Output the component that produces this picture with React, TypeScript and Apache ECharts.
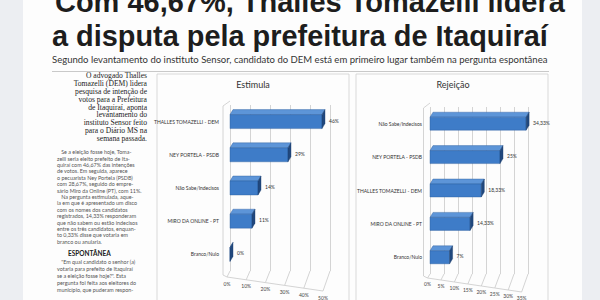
import React, { useEffect, useRef } from "react";
import * as echarts from "echarts";

const headline1 = "Com 46,67%, Thalles Tomazelli lidera";
const headline2 = "a disputa pela prefeitura de Itaquiraí";
const subtitle =
  "Segundo levantamento do instituto Sensor, candidato do DEM está em primeiro lugar também na pergunta espontânea";

const introLines = [
  "O advogado Thalles",
  "Tomazelli (DEM) lidera",
  "pesquisa de intenção de",
  "votos para a Prefeitura",
  "de Itaquiraí, aponta",
  "levantamento do",
  "instituto Sensor feito",
  "para o Diário MS na",
  "semana passada.",
];

const bodyLines = [
  "   Se a eleição fosse hoje, Toma-",
  "zelli seria eleito prefeito de Ita-",
  "quiraí com 46,67% das intenções",
  "de votos. Em seguida, aparece",
  "o pecuarista Ney Portela (PSDB)",
  "com 28,67%, seguido do empre-",
  "sário Miro da Online (PT), com 11%.",
  "   Na pergunta estimulada, aque-",
  "la em que é apresentado um disco",
  "com os nomes dos candidatos",
  "registrados, 14,33% responderam",
  "que não sabem ou estão indecisos",
  "entre os três candidatos, enquan-",
  "to 0,33% disse que votaria em",
  "branco ou anularia.",
];

const espontaneaHeading = "ESPONTÂNEA";
const espontaneaLines = [
  "   \"Em qual candidato o senhor (a)",
  "votaria para prefeito de Itaquiraí",
  "se a eleição fosse hoje?\". Esta",
  "pergunta foi feita aos eleitores do",
  "município, que puderam respon-",
];

const estimulaTitle = "Estimula";
const estimulaCategories = [
  "THALLES TOMAZELLI - DEM",
  "NEY PORTELA - PSDB",
  "Não Sabe/Indecisos",
  "MIRO DA ONLINE - PT",
  "Branco/Nulo",
];
const estimulaValues = [46, 29, 14, 11, 0];
const estimulaTicks = [0, 10, 20, 30, 40, 50];

const rejeicaoTitle = "Rejeição";
const rejeicaoCategories = [
  "Não Sabe/Indecisos",
  "NEY PORTELA - PSDB",
  "THALLES TOMAZELLI - DEM",
  "MIRO DA ONLINE - PT",
  "Branco/Nulo",
];
const rejeicaoValues = [34.33, 25, 18.33, 14.33, 7];
const rejeicaoTicks = [0, 5, 10, 15, 20, 25, 30, 35];

const fmt = (v: number) => String(v).replace(".", ",") + "%";

function fitScale(text: string, font: string, target: number) {
  const c = document.createElement("canvas");
  const ctx = c.getContext("2d");
  if (!ctx) return 1;
  ctx.font = font;
  const w = ctx.measureText(text).width;
  return w > 0 ? target / w : 1;
}

const makeBarRender = (barH: number, dx: number, dy: number) => (params: any, api: any) => {
  const v = api.value(0);
  const cat = api.value(1);
  const p0 = api.coord([0, cat]);
  const p1 = api.coord([v, cat]);
  const x0 = p0[0];
  const x1 = p1[0];
  const yT = p0[1] - barH / 2;
  const yB = p0[1] + barH / 2;
  return {
    type: "group",
    children: [
      {
        type: "polygon",
        shape: { points: [[x0, yT], [x1, yT], [x1 + dx, yT - dy], [x0 + dx, yT - dy]] },
        style: { fill: "#5d95d8", stroke: "#2b5c9b", lineWidth: 0.4 },
      },
      {
        type: "rect",
        shape: { x: x0, y: yT, width: Math.max(0, x1 - x0), height: barH },
        style: { fill: "#3e7cc8", stroke: "#2b5c9b", lineWidth: 0.4 },
      },
      {
        type: "polygon",
        shape: { points: [[x1, yT], [x1 + dx, yT - dy], [x1 + dx, yB - dy], [x1, yB]] },
        style: { fill: "#21487d", stroke: "#1c3f70", lineWidth: 0.4 },
      },
      {
        type: "text",
        style: {
          text: fmt(v),
          x: x1 + dx + 4,
          y: p0[1] - 1,
          fill: "#333",
          fontSize: 5,
          fontFamily: "Lato",
          verticalAlign: "middle",
        },
      },
    ],
  };
};

// Floor and left wall of the pseudo-3D plot, built from the axis scale.
const makeFloorRender = (ticks: number[], shift0: number, shiftStep: number, drop0: number, dropStep: number) =>
  (params: any, api: any) => {
    const cs = params.coordSys;
    const bottom = cs.y + cs.height;
    const top = cs.y;
    const children: any[] = [];
    const ends: number[][] = [];
    ticks.forEach((t, i) => {
      const x = api.coord([t, 0])[0];
      const ex = x - shift0 - i * shiftStep;
      const ey = bottom + drop0 + i * dropStep;
      ends.push([ex, ey]);
      children.push({
        type: "line",
        shape: { x1: x, y1: bottom, x2: ex, y2: ey },
        style: { stroke: "#c9c9c9", lineWidth: 0.8 },
      });
    });
    children.push({
      type: "polyline",
      shape: { points: ends },
      style: { stroke: "#c9c9c9", lineWidth: 0.8, fill: "none" },
    });
    const x0 = api.coord([ticks[0], 0])[0];
    const fx = ends[0][0] - 4;
    children.push({
      type: "polyline",
      shape: { points: [[x0, top - 4], [fx, top + 1], [fx, ends[0][1] - 2]] },
      style: { stroke: "#c9c9c9", lineWidth: 0.8, fill: "none" },
    });
    children.push({
      type: "line",
      shape: { x1: fx, y1: ends[0][1] - 2, x2: ends[0][0], y2: ends[0][1] },
      style: { stroke: "#c9c9c9", lineWidth: 0.8 },
    });
    return { type: "group", children };
  };

function richLabels(n: number, shift0: number, shiftStep: number, dropStep: number) {
  const rich: any = {};
  for (let i = 0; i < n; i++) {
    rich["t" + i] = {
      fontSize: 5,
      fontFamily: "Lato",
      color: "#444",
      padding: [i * dropStep, (shift0 + i * shiftStep) * 2, 0, 0],
    };
  }
  return rich;
}

export default function App() {
  const ref = useRef<HTMLDivElement>(null);
  useEffect(() => {
    if (!ref.current) return;
    const chart = echarts.init(ref.current, null, { renderer: "svg" });

    const hFont = 'bold 30px "Liberation Sans"';
    const s1 = fitScale(headline1, hFont, 510);
    const s2 = fitScale(headline2, hFont, 496);
    const subFont = '9px "Lato"';
    const sSub = fitScale(subtitle, subFont, 496);

    const option: any = {
      animation: false,
      backgroundColor: "#eceef2",
      graphic: [
        { type: "rect", z: -10, shape: { x: 23, y: 0, width: 559, height: 300 }, style: { fill: "#fdfdfd" } },
        {
          type: "text",
          x: 55,
          y: 1,
          scaleX: s1,
          style: { text: headline1, fontSize: 30, fontWeight: "bold", fontFamily: "Liberation Sans", fill: "#1d1d1d", verticalAlign: "middle" },
        },
        {
          type: "text",
          x: 52,
          y: 35,
          scaleX: s2,
          style: { text: headline2, fontSize: 30, fontWeight: "bold", fontFamily: "Liberation Sans", fill: "#1d1d1d", verticalAlign: "middle" },
        },
        {
          type: "text",
          x: 52,
          y: 60,
          scaleX: sSub,
          style: { text: subtitle, fontSize: 9, fontFamily: "Lato", fill: "#333", verticalAlign: "middle" },
        },
        { type: "line", shape: { x1: 52, y1: 71.5, x2: 549, y2: 71.5 }, style: { stroke: "#bbbbbb", lineWidth: 0.8 } },
        {
          type: "text",
          x: 147,
          y: 72,
          style: {
            text: introLines.join("\n"),
            fontSize: 7.6,
            lineHeight: 7.8,
            fontFamily: "Liberation Serif",
            fill: "#222",
            align: "right",
            verticalAlign: "top",
          },
        },
        {
          type: "text",
          x: 57,
          y: 149,
          style: {
            text: bodyLines.join("\n"),
            fontSize: 5.4,
            lineHeight: 6.4,
            fontFamily: "Lato",
            fill: "#555",
            align: "left",
            verticalAlign: "top",
          },
        },
        {
          type: "text",
          x: 68,
          y: 250,
          style: { text: espontaneaHeading, fontSize: 6.5, fontWeight: "bold", fontFamily: "Lato", fill: "#222", verticalAlign: "top" },
        },
        {
          type: "text",
          x: 57,
          y: 258,
          style: {
            text: espontaneaLines.join("\n"),
            fontSize: 5.4,
            lineHeight: 7,
            fontFamily: "Lato",
            fill: "#555",
            align: "left",
            verticalAlign: "top",
          },
        },
        { type: "rect", shape: { x: 157, y: 74, width: 192, height: 240 }, style: { fill: "none", stroke: "#cfcfcf", lineWidth: 0.8 } },
        { type: "rect", shape: { x: 356, y: 74, width: 192, height: 240 }, style: { fill: "none", stroke: "#cfcfcf", lineWidth: 0.8 } },
        {
          type: "text",
          x: 253,
          y: 84,
          style: { text: estimulaTitle, fontSize: 9, fontFamily: "Lato", fill: "#333", align: "center", verticalAlign: "middle" },
        },
        {
          type: "text",
          x: 453,
          y: 84,
          style: { text: rejeicaoTitle, fontSize: 9, fontFamily: "Lato", fill: "#333", align: "center", verticalAlign: "middle" },
        },
      ],
      grid: [
        { left: 230, top: 105, width: 100, height: 166 },
        { left: 430, top: 107, width: 98, height: 167 },
      ],
      xAxis: [
        {
          gridIndex: 0,
          type: "value",
          min: 0,
          max: 50,
          interval: 10,
          axisLine: { show: false },
          axisTick: { show: false },
          splitLine: { show: true, lineStyle: { color: "#c9c9c9", width: 0.8 } },
          axisLabel: {
            margin: 10,
            formatter: (v: number) => `{t${estimulaTicks.indexOf(v)}|${v}%}`,
            rich: richLabels(estimulaTicks.length, 3, 0.8, 2.8),
          },
        },
        {
          gridIndex: 1,
          type: "value",
          min: 0,
          max: 35,
          interval: 5,
          axisLine: { show: false },
          axisTick: { show: false },
          splitLine: { show: true, lineStyle: { color: "#c9c9c9", width: 0.8 } },
          axisLabel: {
            margin: 7,
            formatter: (v: number) => `{t${rejeicaoTicks.indexOf(v)}|${v}%}`,
            rich: richLabels(rejeicaoTicks.length, 2.5, 0.55, 2),
          },
        },
      ],
      yAxis: [
        {
          gridIndex: 0,
          type: "category",
          inverse: true,
          data: estimulaCategories,
          axisLine: { show: false },
          axisTick: { show: false },
          axisLabel: { fontSize: 5, fontFamily: "Lato", color: "#333", margin: 11 },
        },
        {
          gridIndex: 1,
          type: "category",
          inverse: true,
          data: rejeicaoCategories,
          axisLine: { show: false },
          axisTick: { show: false },
          axisLabel: { fontSize: 5, fontFamily: "Lato", color: "#333", margin: 8 },
        },
      ],
      series: [
        {
          type: "custom",
          xAxisIndex: 0,
          yAxisIndex: 0,
          data: [[0, 0]],
          encode: { x: 0, y: 1 },
          renderItem: makeFloorRender(estimulaTicks, 3, 0.8, 6, 2.8),
          silent: true,
          z: 1,
        },
        {
          type: "custom",
          xAxisIndex: 1,
          yAxisIndex: 1,
          data: [[0, 0]],
          encode: { x: 0, y: 1 },
          renderItem: makeFloorRender(rejeicaoTicks, 2.5, 0.55, 4, 2),
          silent: true,
          z: 1,
        },
        {
          type: "custom",
          xAxisIndex: 0,
          yAxisIndex: 0,
          data: estimulaValues.map((v, i) => [v, i]),
          encode: { x: 0, y: 1 },
          renderItem: makeBarRender(14, 3, 5),
          z: 3,
        },
        {
          type: "custom",
          xAxisIndex: 1,
          yAxisIndex: 1,
          data: rejeicaoValues.map((v, i) => [v, i]),
          encode: { x: 0, y: 1 },
          renderItem: makeBarRender(13, 3, 5),
          z: 3,
        },
      ],
    };
    chart.setOption(option);
    return () => chart.dispose();
  }, []);
  return (
    <div
      ref={ref}
      style={{ position: "fixed", left: 0, top: 0, width: 600, height: 300 }}
    />
  );
}
